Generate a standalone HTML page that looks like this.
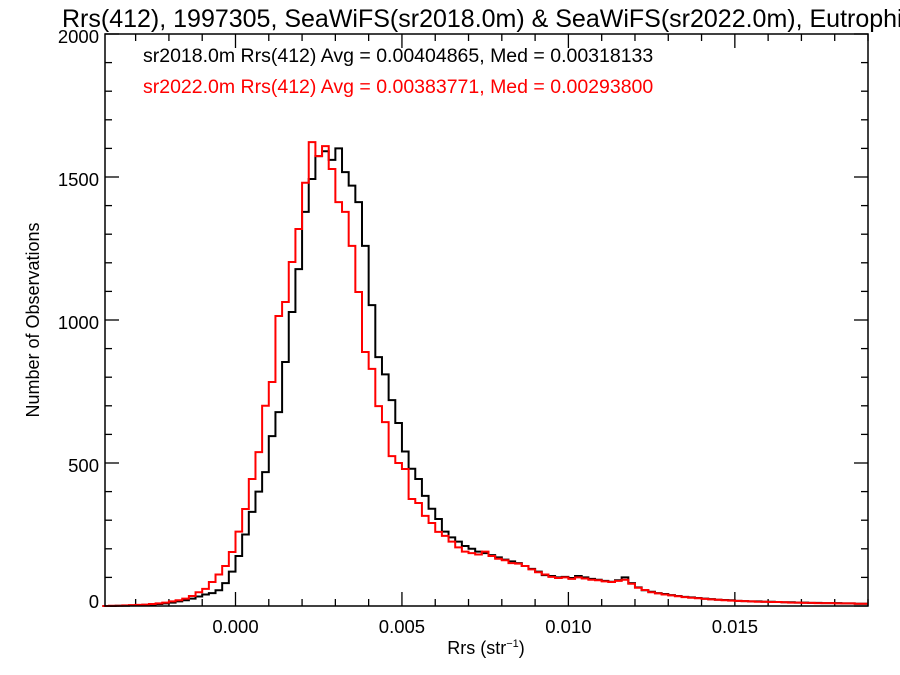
<!DOCTYPE html>
<html><head><meta charset="utf-8"><style>
body{margin:0;background:#fff}
svg{display:block;font-family:"Liberation Sans",Arial,sans-serif}
</style></head><body>
<svg id="chart" width="900" height="675" viewBox="0 0 900 675">
<text x="62" y="27" font-size="25" fill="#000">Rrs(412), 1997305, SeaWiFS(sr2018.0m) &amp; SeaWiFS(sr2022.0m), Eutrophi</text>
<text x="143" y="62" font-size="19.5" fill="#000">sr2018.0m Rrs(412) Avg = 0.00404865, Med = 0.00318133</text>
<text x="143" y="93" font-size="19.5" fill="#ff0000">sr2022.0m Rrs(412) Avg = 0.00383771, Med = 0.00293800</text>
<text x="486" y="654" font-size="18" text-anchor="middle">Rrs (str<tspan font-size="11" dy="-7">−1</tspan><tspan dy="7">)</tspan></text>
<text transform="translate(39,320) rotate(-90)" font-size="18" text-anchor="middle">Number of Observations</text>
<g id="ticks"></g>
<g id="series"></g>
<rect x="105" y="34" width="763" height="572" fill="none" stroke="#000" stroke-width="1.5"/>
</svg>
<script>
const binStart = -0.004;
const binWidth = 0.0002;
const countsSr2018 = [0,0,1,1,2,3,4,5,7,9,12,16,20,26,33,40,45,55,80,120,175,250,329,400,468,594,678,853,1028,1178,1378,1493,1573,1590,1560,1600,1517,1470,1412,1259,1052,870,810,720,640,540,480,444,385,340,304,260,240,225,210,200,190,185,178,170,162,156,150,140,130,120,108,105,100,102,98,105,100,95,92,88,85,90,100,80,65,55,50,45,42,38,35,32,30,28,26,24,22,21,20,18,17,16,16,15,15,14,13,13,12,12,11,11,10,10,10,9,9,8,8];
const countsSr2022 = [0,1,1,2,3,4,5,7,9,12,16,20,26,35,48,60,84,110,140,189,260,339,444,538,700,783,1014,1063,1203,1318,1480,1622,1573,1608,1528,1412,1378,1259,1098,888,829,699,643,524,500,479,374,360,315,290,259,245,225,205,190,185,180,190,175,165,160,150,148,140,128,118,110,102,98,100,95,100,96,92,90,86,84,88,92,78,64,56,48,44,40,37,34,31,29,27,25,23,22,20,19,18,17,16,15,15,14,14,13,12,12,11,11,10,10,10,9,9,9,8,8];
const xTickLabels = ["0.000","0.005","0.010","0.015"];
const xTickValues = [0,0.005,0.010,0.015];
const yTickLabels = ["0","500","1000","1500","2000"];
const yTickValues = [0,500,1000,1500,2000];
const X0=105,X1=868,Y0=606,Y1=34, XMIN=-0.00392, XMAX=0.0190, YMIN=0, YMAX=2000;
const sx=v=>X0+(v-XMIN)/(XMAX-XMIN)*(X1-X0);
const sy=v=>Y0-(v-YMIN)/(YMAX-YMIN)*(Y0-Y1);
const NS="http://www.w3.org/2000/svg";
const tg=document.getElementById('ticks'), sg=document.getElementById('series');
function line(g,x1,y1,x2,y2){const l=document.createElementNS(NS,'line');l.setAttribute('x1',x1);l.setAttribute('y1',y1);l.setAttribute('x2',x2);l.setAttribute('y2',y2);l.setAttribute('stroke','#000');l.setAttribute('stroke-width','1.3');g.appendChild(l);return l;}
for(let k=-3;k<=19;k++){const v=k*0.001;const x=sx(v);if(x<X0||x>X1)continue;const major=k%5===0;const L=major?14:7;
 const a=line(tg,x,Y0,x,Y0-L);
 const b=line(tg,x,Y1,x,Y1+L);}
xTickValues.forEach((v,i)=>{const t=document.createElementNS(NS,'text');t.setAttribute('x',sx(v));t.setAttribute('y',Y0+27);t.setAttribute('font-size','18.5');t.setAttribute('text-anchor','middle');t.textContent=xTickLabels[i];
 
 
 tg.appendChild(t);});
for(let v=0;v<=2000;v+=100){const y=sy(v);const major=v%500===0;const L=major?14:7;
 const a=line(tg,X0,y,X0+L,y);
 const b=line(tg,X1,y,X1-L,y);}
yTickValues.forEach((v,i)=>{const t=document.createElementNS(NS,'text');t.setAttribute('x',X0-6);t.setAttribute('y',sy(v)+(v===0?2:9));t.setAttribute('font-size','18.5');t.setAttribute('text-anchor','end');t.textContent=yTickLabels[i];
 
 
 tg.appendChild(t);});
function step(counts,color,name){let d='';counts.forEach((c,i)=>{const xa=sx(binStart+i*binWidth),xb=sx(binStart+(i+1)*binWidth),y=sy(c);d+=(i===0?'M'+xa+','+y:'L'+xa+','+y)+'L'+xb+','+y;});
 const p=document.createElementNS(NS,'path');p.setAttribute('d',d);p.setAttribute('fill','none');p.setAttribute('stroke',color);p.setAttribute('stroke-width','2');
 
 
 sg.appendChild(p);}
step(countsSr2018,'#000','histogram-sr2018');
step(countsSr2022,'#ff0000','histogram-sr2022');
</script>
</body></html>
